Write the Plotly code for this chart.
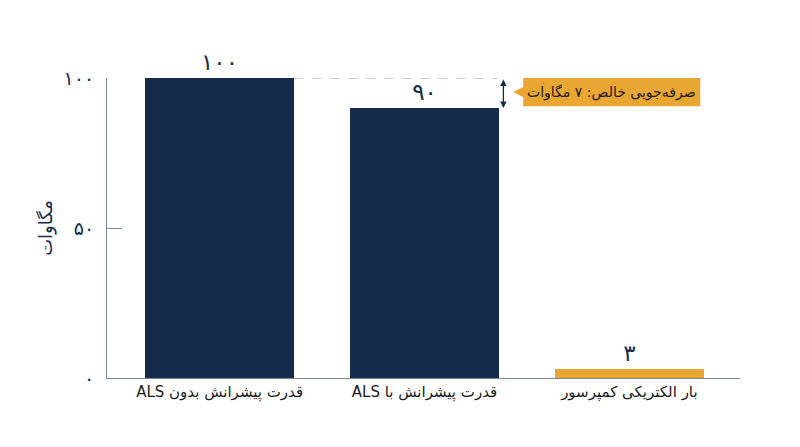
import plotly.graph_objects as go

categories = ["قدرت پیشرانش بدون ALS", "قدرت پیشرانش با ALS", "بار الکتریکی کمپرسور"]
values = [100, 90, 3]
value_labels = ["۱۰۰", "۹۰", "۳"]
bar_colors = ["#142b4c", "#142b4c", "#e9a632"]
tick_vals = [0, 50, 100]
tick_text = ["۰", "۵۰", "۱۰۰"]
y_title = "مگاوات"
callout_text = "صرفه‌جویی خالص: ۷ مگاوات"

NAVY = "#142b4c"
ORANGE = "#e9a632"
GRID = "#7d8796"
FONT = "DejaVu Sans"


def rtl(s):
    return "\u202B" + s + "\u202C"


xs = list(range(len(categories)))
bar_w = 0.73

fig = go.Figure()
fig.add_trace(go.Bar(
    x=xs, y=values, width=bar_w,
    marker=dict(color=bar_colors, line=dict(width=0)),
    text=value_labels, textposition="outside", cliponaxis=False,
    textfont=dict(family=FONT, size=23, color=NAVY),
    hoverinfo="skip",
))

top = values[0]
low = values[1]
arrow_x = 1.385
fig.add_shape(type="line", xref="x", yref="y",
              x0=xs[0] + bar_w / 2, x1=arrow_x - 0.03, y0=top, y1=top,
              line=dict(color="#8a8f98", width=1, dash="dash"))
fig.add_annotation(x=arrow_x, y=low, ax=arrow_x, ay=top, xref="x", yref="y",
                   axref="x", ayref="y", text="", showarrow=True,
                   arrowhead=2, startarrowhead=2, arrowside="end+start",
                   arrowwidth=1.3, arrowsize=1, startarrowsize=1,
                   arrowcolor=NAVY)
bx0, bx1, tip = 1.482, 2.346, 1.432
by0, by1 = low + 0.6, top
bym = (by0 + by1) / 2
path = (f"M {bx0} {by0} L {bx1} {by0} L {bx1} {by1} L {bx0} {by1} "
        f"L {bx0} {bym + 1.7} L {tip} {bym} L {bx0} {bym - 1.7} Z")
fig.add_shape(type="path", xref="x", yref="y", path=path,
              fillcolor=ORANGE, line=dict(width=0))
fig.add_annotation(x=(bx0 + bx1) / 2, y=bym, xref="x", yref="y",
                   text=rtl(callout_text), showarrow=False,
                   font=dict(family=FONT, size=14, color="#1a1a1a"))

fig.update_layout(
    width=800, height=447,
    margin=dict(l=99, r=68, t=70, b=77),
    paper_bgcolor="white", plot_bgcolor="white",
    showlegend=False,
    font=dict(family=FONT, color=NAVY),
    bargap=0,
)
fig.update_xaxes(
    range=[-0.55, 2.54], tickmode="array", tickvals=xs,
    ticktext=[rtl(c) for c in categories], automargin=False,
    showgrid=False, zeroline=False, showline=True, linecolor=GRID, linewidth=1,
    ticks="", tickfont=dict(family=FONT, size=15, color="#1a1a1a"),
)
fig.update_yaxes(
    range=[0, 100], tickmode="array", tickvals=tick_vals, ticktext=tick_text,
    automargin=False,
    showgrid=False, zeroline=False, showline=True, linecolor=GRID, linewidth=1,
    ticks="inside", ticklen=15, tickcolor=GRID, tickwidth=1,
    tickfont=dict(family=FONT, size=19, color=NAVY), ticklabelstandoff=8,
    title=dict(text=y_title, font=dict(family=FONT, size=18, color=NAVY), standoff=6),
)

fig.write_html("out.html")
